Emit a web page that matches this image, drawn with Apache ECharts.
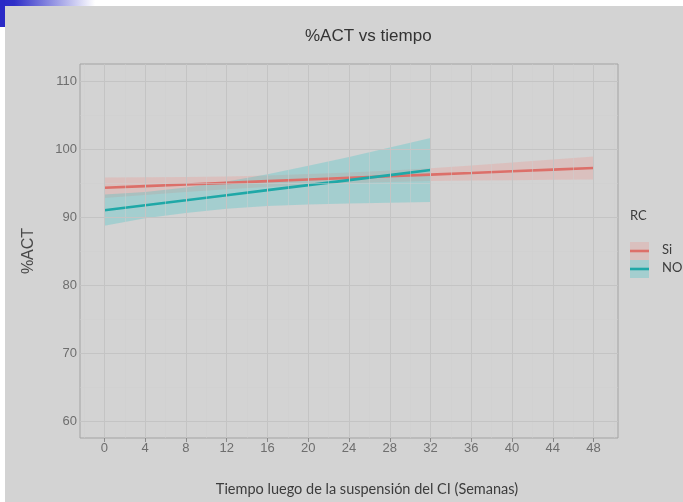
<!DOCTYPE html>
<html>
<head>
<meta charset="utf-8">
<script src="https://cdn.jsdelivr.net/npm/echarts@6/dist/echarts.min.js"></script>
<style>
  html, body { margin: 0; padding: 0; background: #ffffff; }
  #chart { width: 683px; height: 502px; }
</style>
</head>
<body>
<div id="chart"></div>
<script>
// Fitted %ACT over time, with confidence band, for each RC group
const siWeeks = [0, 4, 8, 12, 16, 20, 24, 28, 32, 36, 40, 44, 48];
const siFit   = [94.3, 94.54, 94.78, 95.02, 95.27, 95.51, 95.75, 95.99, 96.23, 96.47, 96.72, 96.96, 97.2];
const siLower = [92.8, 93.24, 93.68, 94.07, 94.42, 94.71, 94.95, 95.14, 95.28, 95.37, 95.42, 95.46, 95.5];
const siUpper = [95.8, 95.84, 95.88, 95.97, 96.12, 96.31, 96.55, 96.84, 97.18, 97.57, 98.02, 98.46, 98.9];

const noWeeks = [0, 4, 8, 12, 16, 20, 24, 28, 32];
const noFit   = [91.0, 91.74, 92.47, 93.21, 93.95, 94.69, 95.42, 96.16, 96.9];
const noLower = [88.7, 89.8, 90.6, 91.2, 91.6, 91.85, 92.0, 92.1, 92.2];
const noUpper = [93.3, 93.68, 94.34, 95.22, 96.3, 97.53, 98.84, 100.22, 101.6];

const xTicks = [0, 4, 8, 12, 16, 20, 24, 28, 32, 36, 40, 44, 48];
const xMinor = [-2, 2, 6, 10, 14, 18, 22, 26, 30, 34, 38, 42, 46, 50];
const yTicks = [60, 70, 80, 90, 100, 110];
const yMinor = [65, 75, 85, 95, 105];

const groups = ['Si', 'NO'];
const lineColors = ['#dc6f69', '#1fa8a7'];
const bandColors = ['rgba(248,118,109,0.2)', 'rgba(0,191,196,0.22)'];

const chart = echarts.init(document.getElementById('chart'));

function bandSeries(name, weeks, lower, upper, fill) {
  return {
    name: name + ' IC',
    type: 'custom',
    z: 3,
    silent: true,
    data: weeks.map((w, i) => [w, lower[i], upper[i]]),
    renderItem: function (params, api) {
      if (params.dataIndex !== 0) return;
      const pts = [];
      for (let i = 0; i < weeks.length; i++) pts.push(api.coord([weeks[i], upper[i]]));
      for (let i = weeks.length - 1; i >= 0; i--) pts.push(api.coord([weeks[i], lower[i]]));
      return { type: 'polygon', shape: { points: pts }, style: { fill: fill } };
    }
  };
}

function lineSeries(name, weeks, fit, color) {
  return {
    name: name,
    type: 'line',
    z: 4,
    data: weeks.map((w, i) => [w, fit[i]]),
    showSymbol: false,
    lineStyle: { color: color, width: 2.6 },
    silent: true
  };
}

const gridLine = (c, w) => ({ color: c, width: w, type: 'solid' });

const option = {
  backgroundColor: '#ffffff',
  animation: false,
  title: {
    text: '%ACT vs tiempo',
    left: 300,
    top: 23,
    textStyle: { fontFamily: 'Liberation Sans', fontSize: 17, fontWeight: 'normal', color: '#333333' }
  },
  grid: {
    left: 80, top: 64, width: 538, height: 378,
    show: true, borderColor: '#a3a3a3', borderWidth: 1, backgroundColor: 'transparent'
  },
  xAxis: {
    type: 'value',
    min: -2.4, max: 50.4,
    axisLine: { show: false },
    splitLine: { show: false },
    axisTick: { show: true, customValues: xTicks, length: 4, lineStyle: { color: '#8a8a8a' } },
    axisLabel: { customValues: xTicks, margin: 4, fontFamily: 'Liberation Sans', fontSize: 13, color: '#6e6e6e' },
    name: 'Tiempo luego de la suspensión del CI (Semanas)',
    nameLocation: 'middle',
    nameGap: 44,
    nameTextStyle: { fontFamily: 'Lato', fontSize: 14.5, color: '#3c3c3c', padding: [0, 0, 0, 36] }
  },
  yAxis: {
    type: 'value',
    min: 57.5, max: 112.5,
    axisLine: { show: false },
    splitLine: { show: false },
    axisTick: { show: true, customValues: yTicks, length: 4, lineStyle: { color: '#8a8a8a' } },
    axisLabel: { customValues: yTicks, margin: 3, fontFamily: 'Liberation Sans', fontSize: 13, color: '#6e6e6e' },
    name: '%ACT',
    nameLocation: 'middle',
    nameGap: 43,
    nameRotate: 90,
    nameTextStyle: { fontFamily: 'Liberation Sans', fontSize: 16, color: '#484848' }
  },
  graphic: [
    { type: 'rect', left: 5, top: 6, shape: { width: 678, height: 496 }, style: { fill: '#d3d3d3' }, z: -10 },
    { type: 'rect', left: 0, top: 0, shape: { width: 95, height: 6 },
      style: { fill: new echarts.graphic.LinearGradient(0, 0, 1, 0, [
        { offset: 0, color: '#2a2ac6' }, { offset: 0.15, color: '#2f2fc8' }, { offset: 1, color: '#ffffff' }]) }, z: -9 },
    { type: 'rect', left: 0, top: 0, shape: { width: 5, height: 27 }, style: { fill: '#2a2ac6' }, z: -9 },
    // legend
    { type: 'text', left: 630, top: 209, style: { text: 'RC', fontFamily: 'Lato', fontSize: 13, fill: '#3c3c3c' }, z: 10 },
    { type: 'rect', left: 630, top: 242, shape: { width: 19, height: 18 }, style: { fill: bandColors[0] }, z: 10 },
    { type: 'rect', left: 630, top: 260, shape: { width: 19, height: 18 }, style: { fill: bandColors[1] }, z: 10 },
    { type: 'line', shape: { x1: 630, y1: 251, x2: 649, y2: 251 }, style: { stroke: lineColors[0], lineWidth: 2.6 }, z: 11 },
    { type: 'line', shape: { x1: 630, y1: 269, x2: 649, y2: 269 }, style: { stroke: lineColors[1], lineWidth: 2.6 }, z: 11 },
    { type: 'text', left: 662, top: 243, style: { text: groups[0], fontFamily: 'Lato', fontSize: 13, fill: '#3c3c3c' }, z: 10 },
    { type: 'text', left: 662, top: 261, style: { text: groups[1], fontFamily: 'Lato', fontSize: 13, fill: '#3c3c3c' }, z: 10 }
  ],
  series: [
    {
      name: 'grid',
      type: 'line',
      data: [],
      z: 1,
      silent: true,
      markLine: {
        silent: true,
        symbol: 'none',
        label: { show: false },
        animation: false,
        data: [
          ...xMinor.map(v => ({ xAxis: v, lineStyle: gridLine('#cecece', 0.5) })),
          ...yMinor.map(v => ({ yAxis: v, lineStyle: gridLine('#cecece', 0.5) })),
          ...xTicks.map(v => ({ xAxis: v, lineStyle: gridLine('#c4c4c4', 1) })),
          ...yTicks.map(v => ({ yAxis: v, lineStyle: gridLine('#c4c4c4', 1) }))
        ]
      }
    },
    bandSeries(groups[0], siWeeks, siLower, siUpper, bandColors[0]),
    bandSeries(groups[1], noWeeks, noLower, noUpper, bandColors[1]),
    lineSeries(groups[0], siWeeks, siFit, lineColors[0]),
    lineSeries(groups[1], noWeeks, noFit, lineColors[1])
  ]
};

chart.setOption(option);
</script>
</body>
</html>
